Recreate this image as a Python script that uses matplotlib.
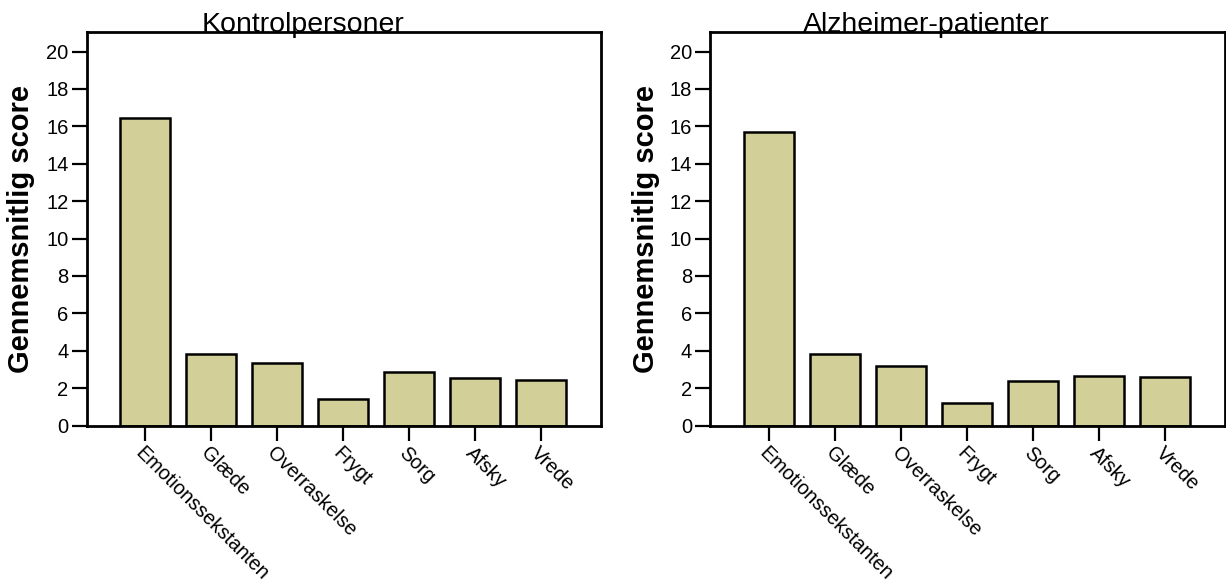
import matplotlib
matplotlib.use("Agg")
import matplotlib.pyplot as plt

categories = ["Emotionssekstanten", "Glæde", "Overraskelse", "Frygt", "Sorg", "Afsky", "Vrede"]
kontrol = [16.45, 3.8, 3.33, 1.43, 2.85, 2.52, 2.45]
alzheimer = [15.7, 3.8, 3.2, 1.2, 2.36, 2.66, 2.57]
titles = ["Kontrolpersoner", "Alzheimer-patienter"]
yticks = [0, 2, 4, 6, 8, 10, 12, 14, 16, 18, 20]

plt.rcParams['font.family'] = ['Liberation Sans', 'DejaVu Sans']

fig = plt.figure(figsize=(12.26, 5.87), dpi=100)
positions = [[0.0707, 0.2751, 0.4193, 0.6698], [0.5791, 0.2751, 0.4198, 0.6698]]
xlims = [(-0.883, 6.905), (-0.898, 6.9)]
widths = [0.76, 0.76]
ylab_x = [21, 646]

for i, (vals, title) in enumerate(zip([kontrol, alzheimer], titles)):
    ax = fig.add_axes(positions[i])
    x = list(range(len(categories)))
    ax.bar(x, vals, width=widths[i], color="#d3cf98", edgecolor="black", linewidth=1.8, zorder=2)
    ax.set_xlim(*xlims[i])
    ax.set_ylim(0, 21.03)
    ax.set_yticks(yticks)
    ax.set_yticklabels([str(t) for t in yticks], fontsize=14.5)
    ax.set_xticks(x)
    ax.set_xticklabels(categories, rotation=-45, ha='left', va='top', rotation_mode='anchor', fontsize=14.3)
    ax.tick_params(axis='y', length=11, width=1.6, pad=2, direction='out')
    ax.tick_params(axis='x', length=11, width=1.6, pad=2, direction='out')
    for sp in ax.spines.values():
        sp.set_linewidth(2.0)
    ax.text(0.42, 1.0, title, transform=ax.transAxes, ha='center', va='baseline', fontsize=20.5)
    fig.text(ylab_x[i] / 1226, 1 - 229 / 587, "Gennemsnitlig score", rotation=90,
             ha='center', va='center', fontsize=21, fontweight='bold')

fig.savefig("out.png", dpi=100)
